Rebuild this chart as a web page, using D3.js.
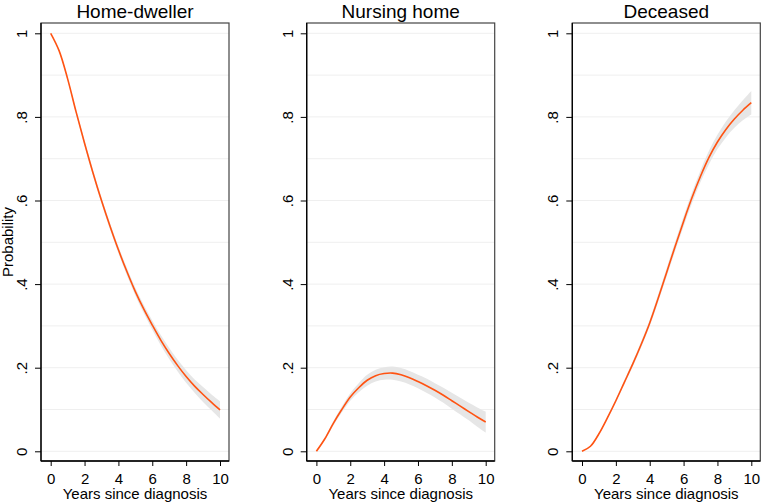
<!DOCTYPE html>
<html>
<head>
<meta charset="utf-8">
<script src="https://cdn.jsdelivr.net/npm/d3@7"></script>
<style>
  body { margin: 0; background: #fff; }
  svg { display: block; font-family: "Liberation Sans", Arial, Helvetica, sans-serif; }
</style>
</head>
<body>
<div id="chart"></div>
<script>
// years since diagnosis, half-year steps
const years = [0, 0.5, 1, 1.5, 2, 2.5, 3, 3.5, 4, 4.5, 5, 5.5, 6, 6.5, 7, 7.5, 8, 8.5, 9, 9.5, 10]

const homeEst = [1.000, 0.958, 0.891, 0.812, 0.737, 0.666, 0.600, 0.539, 0.482, 0.430, 0.382, 0.340, 0.302, 0.266, 0.234, 0.205, 0.179, 0.156, 0.136, 0.117, 0.099]
const homeLo = [1.000, 0.956, 0.887, 0.807, 0.731, 0.659, 0.593, 0.531, 0.474, 0.421, 0.373, 0.330, 0.291, 0.254, 0.221, 0.191, 0.164, 0.140, 0.118, 0.098, 0.078]
const homeHi = [1.000, 0.960, 0.895, 0.817, 0.743, 0.673, 0.607, 0.547, 0.490, 0.439, 0.391, 0.350, 0.313, 0.278, 0.247, 0.219, 0.194, 0.172, 0.154, 0.136, 0.120]

const nursingEst = [0.000, 0.030, 0.067, 0.100, 0.130, 0.152, 0.170, 0.181, 0.186, 0.187, 0.183, 0.176, 0.167, 0.157, 0.146, 0.134, 0.121, 0.108, 0.095, 0.082, 0.070]
const nursingLo = [0.000, 0.027, 0.062, 0.093, 0.121, 0.141, 0.157, 0.167, 0.171, 0.171, 0.167, 0.160, 0.151, 0.140, 0.129, 0.116, 0.102, 0.088, 0.074, 0.059, 0.045]
const nursingHi = [0.001, 0.033, 0.072, 0.107, 0.139, 0.163, 0.183, 0.195, 0.201, 0.203, 0.199, 0.192, 0.183, 0.174, 0.163, 0.152, 0.140, 0.128, 0.116, 0.105, 0.095]

const deceasedEst = [0.000, 0.012, 0.042, 0.080, 0.121, 0.165, 0.209, 0.256, 0.307, 0.366, 0.428, 0.490, 0.550, 0.607, 0.658, 0.703, 0.740, 0.770, 0.795, 0.816, 0.834]
const deceasedLo = [0.000, 0.011, 0.040, 0.077, 0.117, 0.160, 0.203, 0.249, 0.299, 0.357, 0.418, 0.479, 0.538, 0.594, 0.644, 0.687, 0.723, 0.751, 0.774, 0.792, 0.806]
const deceasedHi = [0.000, 0.013, 0.044, 0.083, 0.125, 0.170, 0.215, 0.263, 0.315, 0.375, 0.438, 0.501, 0.562, 0.620, 0.672, 0.719, 0.757, 0.789, 0.816, 0.840, 0.862]

const titles = ["Home-dweller", "Nursing home", "Deceased"]
const xTicks = [0, 2, 4, 6, 8, 10]
const yTicks = [0, 0.2, 0.4, 0.6, 0.8, 1]
const yTickLabels = ["0", ".2", ".4", ".6", ".8", "1"]
const gridValues = [0, 0.1, 0.2, 0.3, 0.4, 0.5, 0.6, 0.7, 0.8, 0.9, 1]

const series = [
    { est: homeEst, lo: homeLo, hi: homeHi },
    { est: nursingEst, lo: nursingLo, hi: nursingHi },
    { est: deceasedEst, lo: deceasedLo, hi: deceasedHi }
]

var width = 761
var height = 503
var boxLefts = [41, 306.7, 572.3]
var boxW = 188
var boxTop = 23
var boxBottom = 461

var svg = d3.select("#chart").append("svg")
    .attr("width", width)
    .attr("height", height)

svg.append("rect").attr("width", width).attr("height", height).attr("fill", "#fff")

series.forEach(function (s, i) {
    var left = boxLefts[i]
    var x = d3.scaleLinear().domain([0, 10]).range([left + 9.7, left + 179])
    var y = d3.scaleLinear().domain([0, 1]).range([451.3, 33.3])
    var g = svg.append("g")

    // gridlines
    g.selectAll(".grid").data(gridValues).enter().append("line")
        .attr("x1", left).attr("x2", left + boxW)
        .attr("y1", d => y(d)).attr("y2", d => y(d))
        .style("stroke", "#efefef")
        .style("stroke-width", 1)

    var rows = years.map((t, k) => ({ t: t, est: s.est[k], lo: s.lo[k], hi: s.hi[k] }))

    // confidence band
    g.append("path")
        .datum(rows)
        .attr("d", d3.area().x(d => x(d.t)).y0(d => y(d.lo)).y1(d => y(d.hi)).curve(d3.curveCatmullRom))
        .style("fill", "#e6e6e6")
        .style("stroke", "none")

    // estimate
    g.append("path")
        .datum(rows)
        .attr("d", d3.line().x(d => x(d.t)).y(d => y(d.est)).curve(d3.curveCatmullRom))
        .style("fill", "none")
        .style("stroke", "#ff5312")
        .style("stroke-width", 1.6)

    // plot region frame
    g.append("rect")
        .attr("x", left).attr("y", boxTop)
        .attr("width", boxW).attr("height", boxBottom - boxTop)
        .style("fill", "none")
        .style("stroke", "#444")
        .style("stroke-width", 1.2)

    // y axis
    var yAxis = g.append("g")
        .attr("transform", "translate(" + left + ",0)")
        .call(d3.axisLeft(y).tickValues(yTicks).tickSize(6).tickSizeOuter(0)
            .tickFormat((d, k) => yTickLabels[k]))
    yAxis.select(".domain").remove()
    yAxis.selectAll("text")
        .attr("x", null).attr("dy", null)
        .attr("text-anchor", "middle")
        .attr("transform", "translate(-14,0) rotate(-90)")
        .style("font-size", "15px")
        .style("fill", "#000")
    g.append("line")
        .attr("x1", left).attr("x2", left)
        .attr("y1", boxTop).attr("y2", boxBottom)
        .style("stroke", "#000").style("stroke-width", 1.3)

    // x axis
    var xAxis = g.append("g")
        .attr("transform", "translate(0," + boxBottom + ")")
        .call(d3.axisBottom(x).tickValues(xTicks).tickSize(5).tickSizeOuter(0).tickPadding(7))
    xAxis.select(".domain").remove()
    xAxis.selectAll("text").style("font-size", "15px").style("fill", "#000")
    g.append("line")
        .attr("x1", left).attr("x2", left + boxW)
        .attr("y1", boxBottom).attr("y2", boxBottom)
        .style("stroke", "#000").style("stroke-width", 1.3)

    // titles
    g.append("text")
        .attr("x", left + boxW / 2).attr("y", 18)
        .attr("text-anchor", "middle")
        .style("font-size", "19px")
        .text(titles[i])
    g.append("text")
        .attr("x", left + boxW / 2).attr("y", 499)
        .attr("text-anchor", "middle")
        .style("font-size", "15px")
        .text("Years since diagnosis")
})

svg.append("text")
    .attr("transform", "translate(13,242) rotate(-90)")
    .attr("text-anchor", "middle")
    .style("font-size", "15px")
    .text("Probability")
</script>
</body>
</html>
